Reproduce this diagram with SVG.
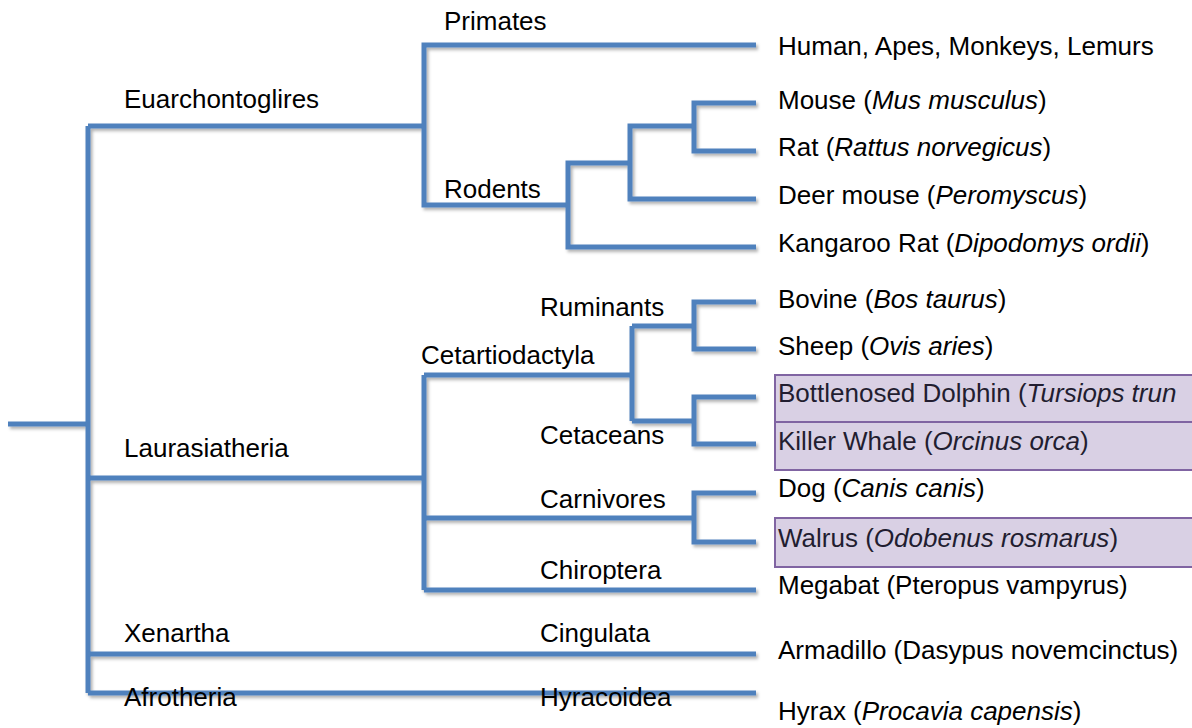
<svg xmlns="http://www.w3.org/2000/svg" width="1192" height="728" viewBox="0 0 1192 728">
<defs>
<filter id="sh" x="-5%" y="-5%" width="110%" height="110%">
<feDropShadow dx="2" dy="2.5" stdDeviation="1.5" flood-color="#000" flood-opacity="0.3"/>
</filter>
<style>
.ln{fill:none;stroke:#4F81BD;stroke-width:5;stroke-linejoin:miter;stroke-linecap:butt}
text{font-family:"Liberation Sans",Arial,sans-serif;font-size:26px;fill:#000}
.it{font-style:italic}
.hl{fill:#D9D0E4;stroke:#8064A2;stroke-width:2}
.hlt{fill:#221d30}
</style>
</defs>
<rect width="1192" height="728" fill="#fff"/>
<g id="highlights">
<rect class="hl" x="775" y="375" width="430" height="47"/>
<rect class="hl" x="775" y="422" width="430" height="48"/>
<rect class="hl" x="775" y="518" width="430" height="49"/>
</g>
<g id="connectors" filter="url(#sh)">
<path class="ln" d="M8,424 H88"/>
<path class="ln" d="M88,126 V693"/>
<path class="ln" d="M88,126 H424"/>
<path class="ln" d="M756,45 H424 V205 H568"/>
<path class="ln" d="M756,247 H568 V163 H630"/>
<path class="ln" d="M756,199 H630 V126 H694"/>
<path class="ln" d="M756,103 H694 V151 H756"/>
<path class="ln" d="M88,478 H424"/>
<path class="ln" d="M424,375 V590"/>
<path class="ln" d="M424,375 H632"/>
<path class="ln" d="M632,326 V421"/>
<path class="ln" d="M632,326 H694"/>
<path class="ln" d="M756,302 H694 V349 H756"/>
<path class="ln" d="M632,421 H694"/>
<path class="ln" d="M756,397 H694 V444 H756"/>
<path class="ln" d="M424,518 H694"/>
<path class="ln" d="M756,493 H694 V542 H756"/>
<path class="ln" d="M424,590 H756"/>
<path class="ln" d="M88,654 H756"/>
<path class="ln" d="M88,693 H756"/>
</g>
<g id="clade-euarchontoglires"><text x="124" y="108">Euarchontoglires</text></g>
<g id="clade-primates"><text x="444" y="30">Primates</text></g>
<g id="clade-rodents"><text x="444" y="198">Rodents</text></g>
<g id="clade-laurasiatheria"><text x="124" y="457">Laurasiatheria</text></g>
<g id="clade-cetartiodactyla"><text x="421" y="364">Cetartiodactyla</text></g>
<g id="clade-ruminants"><text x="540" y="316">Ruminants</text></g>
<g id="clade-cetaceans"><text x="540" y="444">Cetaceans</text></g>
<g id="clade-carnivores"><text x="540" y="508">Carnivores</text></g>
<g id="clade-chiroptera"><text x="540" y="579">Chiroptera</text></g>
<g id="clade-xenartha"><text x="124" y="642">Xenartha</text></g>
<g id="clade-cingulata"><text x="540" y="642">Cingulata</text></g>
<g id="clade-afrotheria"><text x="124" y="706">Afrotheria</text></g>
<g id="clade-hyracoidea"><text x="540" y="706">Hyracoidea</text></g>
<g id="leaf-human"><text x="778" y="55">Human, Apes, Monkeys, Lemurs</text></g>
<g id="leaf-mouse"><text x="778" y="109">Mouse (<tspan class="it">Mus musculus</tspan>)</text></g>
<g id="leaf-rat"><text x="778" y="156">Rat (<tspan class="it">Rattus norvegicus</tspan>)</text></g>
<g id="leaf-deermouse"><text x="778" y="204">Deer mouse (<tspan class="it">Peromyscus</tspan>)</text></g>
<g id="leaf-kangaroorat"><text x="778" y="252">Kangaroo Rat (<tspan class="it">Dipodomys ordii</tspan>)</text></g>
<g id="leaf-bovine"><text x="778" y="308">Bovine (<tspan class="it">Bos taurus</tspan>)</text></g>
<g id="leaf-sheep"><text x="778" y="355">Sheep (<tspan class="it">Ovis aries</tspan>)</text></g>
<g id="leaf-dolphin"><text class="hlt" x="778" y="402">Bottlenosed Dolphin (<tspan class="it">Tursiops trun</tspan></text></g>
<g id="leaf-orca"><text class="hlt" x="778" y="450">Killer Whale (<tspan class="it">Orcinus orca</tspan>)</text></g>
<g id="leaf-dog"><text x="778" y="497">Dog (<tspan class="it">Canis canis</tspan>)</text></g>
<g id="leaf-walrus"><text class="hlt" x="778" y="547">Walrus (<tspan class="it">Odobenus rosmarus</tspan>)</text></g>
<g id="leaf-megabat"><text x="778" y="594">Megabat (Pteropus vampyrus)</text></g>
<g id="leaf-armadillo"><text x="778" y="659">Armadillo (Dasypus novemcinctus)</text></g>
<g id="leaf-hyrax"><text x="778" y="720">Hyrax (<tspan class="it">Procavia capensis</tspan>)</text></g>
</svg>
